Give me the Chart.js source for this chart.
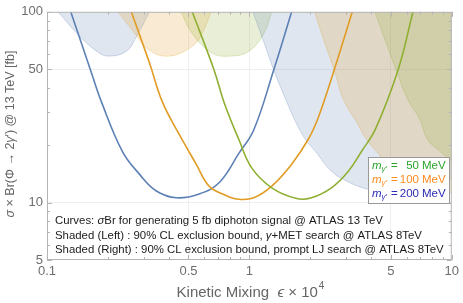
<!DOCTYPE html>
<html lang="en">
<head>
<meta charset="UTF-8">
<title>Diphoton signal vs kinetic mixing</title>
<script src="https://cdn.jsdelivr.net/npm/chart.js"></script>
<style>
    body { margin: 0; background: #fff; }
    canvas { display: block; }
</style>
</head>
<body>
<canvas id="chart" width="463" height="303"></canvas>
<script>
    // axis ticks
    const xMajor = [0.1, 0.5, 1, 5, 10];
    const xMinor = [0.2, 0.3, 0.4, 0.6, 0.7, 0.8, 0.9, 2, 3, 4, 6, 7, 8, 9];
    const yMajor = [5, 10, 50, 100];
    const yMinor = [6, 7, 8, 9, 20, 30, 40, 60, 70, 80, 90];

    // sigma x Br curves (eps x 10^4, fb)
    const blueCurveEps = [0.131, 0.164, 0.186, 0.236, 0.286, 0.347, 0.436, 0.565, 0.708, 0.887, 1.052, 1.319, 1.618];
    const blueCurveSig = [100, 49.6, 33.6, 18.5, 14.1, 11.5, 10.6, 11.1, 12.7, 18.1, 24.1, 49.6, 100];
    const orangeCurveEps = [0.261, 0.321, 0.372, 0.451, 0.546, 0.632, 0.766, 0.887, 1.052, 1.290, 1.618, 1.961, 2.195, 2.57, 3.226];
    const orangeCurveSig = [100, 53.9, 33.6, 22.7, 15.9, 12.2, 10.9, 10.4, 10.6, 12.2, 15.9, 21.6, 28.1, 46.2, 100];
    const greenCurveEps = [0.522, 0.669, 0.749, 0.887, 1.029, 1.290, 1.712, 2.028, 2.543, 3.083, 3.612, 4.184, 5.428, 6.433];
    const greenCurveSig = [100, 49.6, 33.6, 21.4, 15.15, 11.95, 10.5, 10.6, 11.95, 14.6, 18.8, 24.1, 49.6, 100];

    // gamma+MET exclusion (left), lower boundary
    const blueLeftEps = [0.1133, 0.1452, 0.176, 0.1995, 0.247, 0.277, 0.3206];
    const blueLeftSig = [100, 74.3, 62.2, 58.6, 62.2, 74.3, 100];
    const orangeLeftEps = [0.224, 0.2647, 0.3206, 0.4022, 0.5217, 0.584, 0.647];
    const orangeLeftSig = [100, 79.8, 62.9, 58.6, 66.0, 77.0, 100];
    const greenLeftEps = [0.459, 0.5217, 0.654, 0.808, 0.995, 1.179, 1.290];
    const greenLeftSig = [100, 77.0, 60.8, 58.6, 62.2, 77.0, 100];

    // prompt LJ exclusion (right), lower boundary
    const blueRightEps = [1.040, 1.152, 1.319, 1.511, 1.692, 1.895, 2.123, 2.543, 3.083, 3.780, 4.847, 6.433, 8.533, 11.98];
    const blueRightSig = [100, 74.3, 49.6, 34.8, 26.5, 21.4, 18.5, 14.6, 12.83, 11.81, 11.26, 11.5, 12.53, 14.6];
    const orangeRightEps = [2.10, 2.30, 2.65, 2.91, 3.38, 3.79, 4.25, 5.09, 6.17, 7.56, 9.69, 12.9];
    const orangeRightSig = [100, 74.3, 47.9, 34.8, 26.5, 21.4, 18.5, 14.6, 12.8, 11.8, 11.3, 11.5];
    const greenRightEps = [4.17, 4.61, 5.31, 6.05, 6.94, 7.58, 8.53, 10.7];
    const greenRightSig = [100, 74.3, 49.6, 34.8, 27.4, 21.4, 19.0, 15.5];

    const BLUE = [94, 129, 181];
    const ORANGE = [225, 156, 36];
    const GREEN = [143, 176, 50];
    const FONT = '"Liberation Sans", Arial, sans-serif';

    function rgba(c, a) { return 'rgba(' + c[0] + ',' + c[1] + ',' + c[2] + ',' + a + ')'; }
    function pts(xs, ys) { return xs.map((x, i) => ({ x: x, y: ys[i] })); }

    function region(xs, ys, c) {
        return {
            data: pts(xs, ys),
            borderColor: rgba(c, 0.35),
            borderWidth: 0.8,
            backgroundColor: rgba(c, 0.2),
            fill: 'end',
            pointRadius: 0,
            tension: 0.4,
            order: 2,
            clip: 0
        };
    }
    function curve(xs, ys, c) {
        return {
            data: pts(xs, ys),
            borderColor: rgba(c, 1),
            borderWidth: 1.6,
            fill: false,
            pointRadius: 0,
            tension: 0.4,
            order: 1,
            clip: 0
        };
    }

    function richText(ctx, parts, x, y, size) {
        ctx.textAlign = 'left';
        parts.forEach(p => {
            ctx.font = (p[1] ? 'italic ' : '') + size + 'px ' + FONT;
            ctx.fillText(p[0], x, y);
            x += ctx.measureText(p[0]).width;
        });
        return x;
    }

    const framePlugin = {
        id: 'frame',
        afterDatasetsDraw(chart) {
            const ctx = chart.ctx;
            const a = chart.chartArea;
            const xs = chart.scales.x, ys = chart.scales.y;
            ctx.save();
            ctx.strokeStyle = '#b4b4b4';
            ctx.lineWidth = 1;
            ctx.strokeRect(a.left + 0.5, a.top + 0.5, a.right - a.left - 1, a.bottom - a.top - 1);
            ctx.beginPath();
            const tx = (v, len) => {
                const p = Math.round(xs.getPixelForValue(v)) + 0.5;
                ctx.moveTo(p, a.bottom); ctx.lineTo(p, a.bottom - len);
                ctx.moveTo(p, a.top); ctx.lineTo(p, a.top + len);
            };
            const ty = (v, len) => {
                const p = Math.round(ys.getPixelForValue(v)) + 0.5;
                ctx.moveTo(a.left, p); ctx.lineTo(a.left + len, p);
                ctx.moveTo(a.right, p); ctx.lineTo(a.right - len, p);
            };
            xMajor.forEach(v => tx(v, 5));
            xMinor.forEach(v => tx(v, 3));
            yMajor.forEach(v => ty(v, 5));
            yMinor.forEach(v => ty(v, 3));
            ctx.stroke();
            ctx.restore();
        },
        afterDraw(chart) {
            const ctx = chart.ctx;
            ctx.save();
            ctx.textBaseline = 'middle';

            // notes
            ctx.fillStyle = '#1a1a1a';
            richText(ctx, [['Curves: ', false], ['σ', true], ['Br for generating 5 fb diphoton signal @ ATLAS 13 TeV', false]], 55, 221, 11.4);
            richText(ctx, [['Shaded (Left) : 90% CL exclusion bound, ', false], ['γ', true], ['+MET search @ ATLAS 8TeV', false]], 55, 236, 11.4);
            richText(ctx, [['Shaded (Right) : 90% CL exclusion bound, prompt LJ search @ ATLAS 8TeV', false]], 55, 250, 11.4);

            // legend
            ctx.fillStyle = '#fff';
            ctx.fillRect(368, 157, 82, 47);
            ctx.strokeStyle = '#999';
            ctx.lineWidth = 1;
            ctx.strokeRect(368.5, 157.5, 81, 46);
            const items = [['50', '#2aa52a', 166], ['100', '#ff8a1e', 180], ['200', '#2b2bb5', 194]];
            items.forEach(it => {
                ctx.fillStyle = it[1];
                ctx.textAlign = 'left';
                ctx.font = 'italic 11.5px ' + FONT;
                ctx.fillText('m', 372, it[2]);
                const w = ctx.measureText('m').width;
                ctx.font = 'italic 8px ' + FONT;
                ctx.fillText('γ′', 372 + w, it[2] + 3);
                ctx.font = '11.5px ' + FONT;
                ctx.fillText('=', 391, it[2]);
                ctx.textAlign = 'right';
                ctx.fillText(it[0], 419, it[2]);
                ctx.textAlign = 'left';
                ctx.fillText('MeV', 422, it[2]);
            });

            // axis titles
            ctx.fillStyle = '#666';
            ctx.save();
            ctx.translate(11, 134);
            ctx.rotate(-Math.PI / 2);
            const yt = [['σ', true], [' × Br(Φ → 2', false], ['γ', true], ['′) @ 13 TeV [fb]', false]];
            let tw = 0;
            yt.forEach(p => { ctx.font = (p[1] ? 'italic ' : '') + '12.5px ' + FONT; tw += ctx.measureText(p[0]).width; });
            richText(ctx, yt, -tw / 2, 0, 12.5);
            ctx.restore();

            const xt1 = 'Kinetic Mixing  ';
            ctx.font = '15px ' + FONT;
            const w1 = ctx.measureText(xt1).width;
            ctx.font = 'italic 15px ' + FONT;
            const w2 = ctx.measureText('ϵ').width;
            ctx.font = '15px ' + FONT;
            const w3 = ctx.measureText(' × 10').width;
            ctx.font = '10px ' + FONT;
            const w4 = ctx.measureText('4').width;
            let x0 = 250 - (w1 + w2 + w3 + w4) / 2;
            x0 = richText(ctx, [[xt1, false], ['ϵ', true], [' × 10', false]], x0, 293, 15);
            ctx.font = '10px ' + FONT;
            ctx.fillText('4', x0 + 1, 286);
            ctx.restore();
        }
    };

    const datasets = [
        curve(greenCurveEps, greenCurveSig, GREEN),
        curve(orangeCurveEps, orangeCurveSig, ORANGE),
        curve(blueCurveEps, blueCurveSig, BLUE),
        region(greenRightEps, greenRightSig, GREEN),
        region(orangeRightEps, orangeRightSig, ORANGE),
        region(blueRightEps, blueRightSig, BLUE),
        region(greenLeftEps, greenLeftSig, GREEN),
        region(orangeLeftEps, orangeLeftSig, ORANGE),
        region(blueLeftEps, blueLeftSig, BLUE)
    ];

    new Chart(document.getElementById('chart'), {
        type: 'line',
        data: { datasets: datasets },
        options: {
            responsive: false,
            animation: false,
            devicePixelRatio: 1,
            layout: { padding: { top: 8, right: 9, left: 0, bottom: 0 } },
            plugins: { legend: { display: false }, tooltip: { enabled: false } },
            scales: {
                x: {
                    type: 'logarithmic',
                    min: 0.1, max: 10,
                    border: { display: false },
                    grid: {
                        color: ctx => {
                            const v = ctx.tick ? ctx.tick.value : null;
                            return (v === 0.1 || v === 10) ? 'rgba(0,0,0,0)' : '#efefef';
                        },
                        drawTicks: false
                    },
                    afterBuildTicks: s => { s.ticks = xMajor.map(v => ({ value: v })); },
                    afterFit: s => { s.height = 43; },
                    ticks: {
                        autoSkip: false, maxRotation: 0, padding: 4,
                        color: '#6e6e6e', font: { family: FONT, size: 13 },
                        callback: v => String(v)
                    }
                },
                y: {
                    type: 'logarithmic',
                    min: 5, max: 100,
                    border: { display: false },
                    grid: {
                        color: ctx => {
                            const v = ctx.tick ? ctx.tick.value : null;
                            return (v === 5 || v === 100) ? 'rgba(0,0,0,0)' : '#efefef';
                        },
                        drawTicks: false
                    },
                    afterBuildTicks: s => { s.ticks = yMajor.map(v => ({ value: v })); },
                    afterFit: s => { s.width = 47; },
                    ticks: {
                        autoSkip: false, padding: 4,
                        color: '#6e6e6e', font: { family: FONT, size: 13 },
                        callback: v => String(v)
                    }
                }
            }
        },
        plugins: [framePlugin]
    });
</script>
</body>
</html>
